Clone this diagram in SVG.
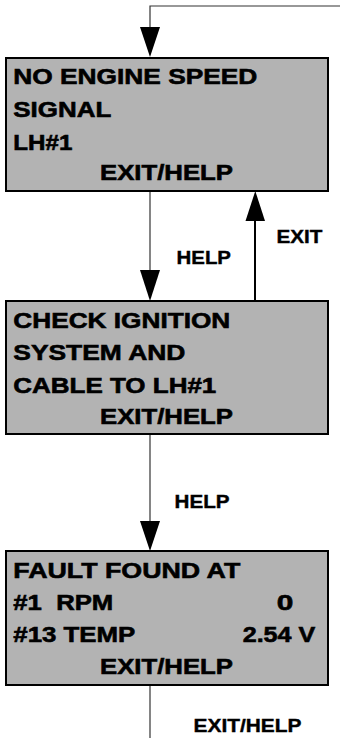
<svg xmlns="http://www.w3.org/2000/svg" width="340" height="738" viewBox="0 0 340 738">
<style>
.box{fill:#b3b3b3;stroke:#000;stroke-width:2}
.t{font-family:"Liberation Sans",Arial,sans-serif;font-weight:bold;font-size:22px;fill:#000;stroke:#000;stroke-width:0.6}
.l{font-family:"Liberation Sans",Arial,sans-serif;font-weight:bold;font-size:19px;fill:#000;stroke:#000;stroke-width:0.4}
.thin{fill:none;stroke:#333;stroke-width:1.2}
.thick{fill:none;stroke:#000;stroke-width:2}
.head{fill:#000}
</style>
<rect width="340" height="738" fill="#fff"/>
<g id="connectors">
  <path class="thin" d="M340 6 H150 V30"/>
  <polygon class="head" points="140,27 160,27 150,57"/>
  <path class="thin" d="M150 191 V272"/>
  <polygon class="head" points="140,270 160,270 150,301"/>
  <path class="thick" d="M255 301 V218"/>
  <polygon class="head" points="245.5,221 265,221 255.3,191"/>
  <path class="thin" d="M150 434 V524"/>
  <polygon class="head" points="140,521 160,521 150,551"/>
  <path class="thin" d="M150 686 V738"/>
  <text class="l" x="176.5" y="263.5" textLength="54.5" lengthAdjust="spacingAndGlyphs">HELP</text>
  <text class="l" x="276.5" y="243" textLength="46" lengthAdjust="spacingAndGlyphs">EXIT</text>
  <text class="l" x="174.5" y="507.5" textLength="55" lengthAdjust="spacingAndGlyphs">HELP</text>
  <text class="l" x="193.5" y="731.5" textLength="108" lengthAdjust="spacingAndGlyphs">EXIT/HELP</text>
</g>
<g id="node1">
  <rect class="box" x="6" y="58" width="322" height="133"/>
  <text class="t" x="13.3" y="83.5" textLength="244" lengthAdjust="spacingAndGlyphs">NO ENGINE SPEED</text>
  <text class="t" x="13.3" y="116.5" textLength="98" lengthAdjust="spacingAndGlyphs">SIGNAL</text>
  <text class="t" x="13.3" y="149.5" textLength="59" lengthAdjust="spacingAndGlyphs">LH#1</text>
  <text class="t" x="100" y="180" textLength="133" lengthAdjust="spacingAndGlyphs">EXIT/HELP</text>
</g>
<g id="node2">
  <rect class="box" x="6" y="301" width="322" height="133"/>
  <text class="t" x="13.3" y="328" textLength="217" lengthAdjust="spacingAndGlyphs">CHECK IGNITION</text>
  <text class="t" x="13.3" y="360" textLength="172" lengthAdjust="spacingAndGlyphs">SYSTEM AND</text>
  <text class="t" x="13.3" y="392.5" textLength="203" lengthAdjust="spacingAndGlyphs">CABLE TO LH#1</text>
  <text class="t" x="100" y="424" textLength="133" lengthAdjust="spacingAndGlyphs">EXIT/HELP</text>
</g>
<g id="node3">
  <rect class="box" x="6" y="551" width="322" height="134"/>
  <text class="t" x="13.3" y="578" textLength="227" lengthAdjust="spacingAndGlyphs">FAULT FOUND AT</text>
  <text class="t" x="13.3" y="610" textLength="100" lengthAdjust="spacingAndGlyphs" xml:space="preserve">#1  RPM</text>
  <text class="t" x="276.7" y="610" textLength="16.6" lengthAdjust="spacingAndGlyphs">0</text>
  <text class="t" x="13.3" y="642" textLength="122" lengthAdjust="spacingAndGlyphs">#13 TEMP</text>
  <text class="t" x="242.7" y="642" textLength="72.5" lengthAdjust="spacingAndGlyphs">2.54 V</text>
  <text class="t" x="100" y="674" textLength="133" lengthAdjust="spacingAndGlyphs">EXIT/HELP</text>
</g>
</svg>
